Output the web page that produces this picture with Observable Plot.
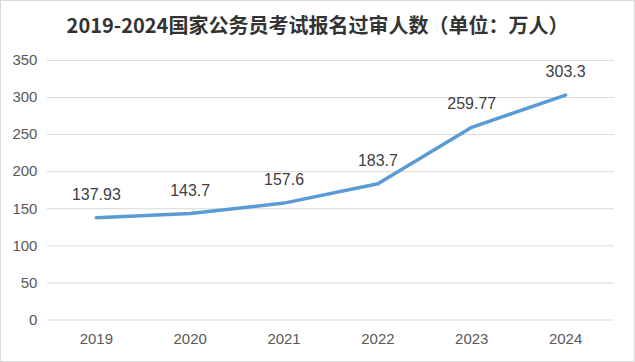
<!DOCTYPE html>
<html>
<head>
<meta charset="utf-8">
<script src="https://cdn.jsdelivr.net/npm/d3@7"></script>
<script src="https://cdn.jsdelivr.net/npm/@observablehq/plot@0.6"></script>
<style>
  html, body { margin: 0; padding: 0; background: #fff; }
  #wrap { position: relative; width: 633px; height: 360px; border: 1px solid #d9d9d9; background: #fff; overflow: hidden; }
  #title { position: absolute; left: 0; right: 0; top: 9px; text-align: center; font-family: "Noto Sans CJK SC", "Liberation Sans", sans-serif; font-weight: bold; font-size: 20px; color: #333; letter-spacing: 0px; }
  #chart { position: absolute; left: -1px; top: -1px; }
</style>
</head>
<body>
<div id="wrap">
  <div id="title">2019-2024国家公务员考试报名过审人数（单位：万人）</div>
  <div id="chart"></div>
</div>
<script>
const years = ["2019", "2020", "2021", "2022", "2023", "2024"];
const applicants = [137.93, 143.7, 157.6, 183.7, 259.77, 303.3];
const labels = ["137.93", "143.7", "157.6", "183.7", "259.77", "303.3"];
const yTicks = [0, 50, 100, 150, 200, 250, 300, 350];

const data = years.map((y, i) => ({year: y, value: applicants[i], label: labels[i]}));

const chart = Plot.plot({
  width: 635,
  height: 362,
  marginTop: 60,
  marginBottom: 42,
  marginLeft: 47,
  marginRight: 20,
  style: {fontFamily: "'Liberation Sans', Arial, sans-serif", background: "transparent", color: "#595959"},
  x: {type: "point", domain: years, padding: 0.5, label: null},
  y: {domain: [0, 350], label: null},
  marks: [
    Plot.gridY(yTicks, {stroke: "#d9d9d9", strokeOpacity: 1, strokeWidth: 1}),
    Plot.axisY(yTicks, {tickSize: 0, tickPadding: 10, fontSize: 15, fill: "#595959", label: null}),
    Plot.axisX({tickSize: 0, tickPadding: 13, fontSize: 15, fill: "#595959", label: null}),
    Plot.line(data, {x: "year", y: "value", stroke: "#5b9bd5", strokeWidth: 3.5, strokeLinecap: "round", strokeLinejoin: "round"}),
    Plot.text(data, {x: "year", y: "value", text: "label", dy: -23, fontSize: 16, fill: "#404040"})
  ]
});
document.getElementById("chart").appendChild(chart);
</script>
</body>
</html>
